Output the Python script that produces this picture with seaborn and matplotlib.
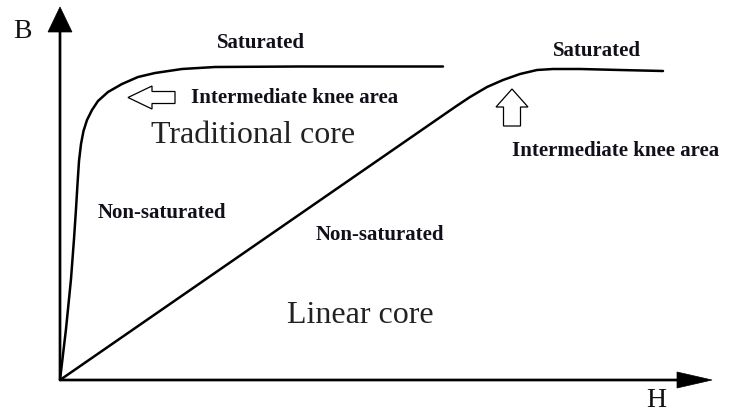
import matplotlib
matplotlib.use("Agg")
import matplotlib.pyplot as plt
import pandas as pd
import seaborn as sns

# B-H curves (units: pixels from the origin)
trad_h = [0, 6, 11, 14, 16, 17.5, 19, 21, 23.5, 27, 32, 38, 48, 62, 78, 95,
          122, 155, 240, 383]
trad_b = [0, 51, 101, 141, 171, 196, 219, 236, 249, 260, 270, 279, 288, 296,
          303, 307, 311, 313, 313.5, 313.5]

lin_h = [0, 395, 410, 427, 443, 460, 477, 493, 520, 560, 603]
lin_b = [0, 273, 283, 293, 300, 306, 310, 311, 311, 310, 309]

sns.set_style("white")
plt.rcParams["font.family"] = ["Liberation Serif", "DejaVu Serif"]

# origin of the axes in the picture, in pixels
X0, Y0 = 60, 381


def px(x, y):
    """Pixel position in the picture -> data position."""
    return x - X0, Y0 - y


fig = plt.figure(figsize=(7.29, 4.14), dpi=100)
ax = fig.add_axes([0, 0, 1, 1])

df_trad = pd.DataFrame({"H": trad_h, "B": trad_b})
df_lin = pd.DataFrame({"H": lin_h, "B": lin_b})
sns.lineplot(data=df_trad, x="H", y="B", ax=ax, color="black", lw=1.8, sort=False)
sns.lineplot(data=df_lin, x="H", y="B", ax=ax, color="black", lw=1.8, sort=False)

ax.set_xlim(-X0, 729 - X0)
ax.set_ylim(Y0 - 414, Y0)
ax.axis("off")

# axes with solid arrow heads
ax.arrow(0, 0, 0, Y0 - 8, width=2, head_width=24, head_length=25,
         length_includes_head=True, color="black", lw=0.5)
ax.arrow(0, 0, 712 - X0, 0, width=2, head_width=16, head_length=35,
         length_includes_head=True, color="black", lw=0.5)

# hollow pointers to the knee areas
x, y = px(175, 98.5)
ax.arrow(x, y, -47, 0, width=12, head_width=23, head_length=24,
         length_includes_head=True, fill=False, ec="black", lw=0.9)
x, y = px(512, 127)
ax.arrow(x, y, 0, 37, width=17, head_width=32, head_length=18,
         length_includes_head=True, fill=False, ec="black", lw=0.9)

# axis names
ax.text(*px(22, 38), "B", fontsize=20, ha="center", va="baseline", color="#111111")
ax.text(*px(656, 407), "H", fontsize=20, ha="center", va="baseline", color="#111111")

# large labels
ax.text(*px(253, 143), "Traditional core", fontsize=23, ha="center",
        va="baseline", color="#222222")
ax.text(*px(360, 323), "Linear core", fontsize=23, ha="center",
        va="baseline", color="#222222")

# bold labels
bold = dict(fontsize=15, fontweight="bold", ha="center", va="baseline", color="#10101a")
ax.text(*px(261, 48), "Saturated", **bold)
ax.text(*px(597, 56), "Saturated", **bold)
ax.text(*px(295, 103), "Intermediate knee area", **bold)
ax.text(*px(616, 156), "Intermediate knee area", **bold)
ax.text(*px(162, 218), "Non-saturated", **bold)
ax.text(*px(380, 240), "Non-saturated", **bold)

fig.savefig("out.png", dpi=100)
